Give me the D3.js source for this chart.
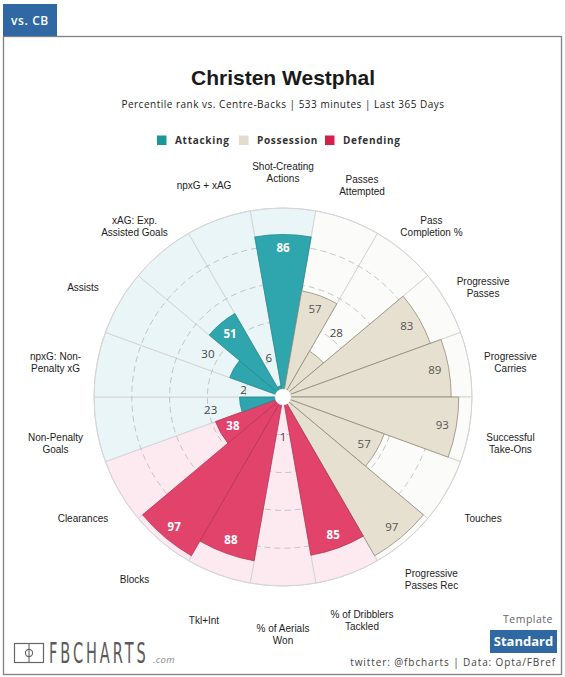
<!DOCTYPE html>
<html>
<head>
<meta charset="utf-8">
<script src="https://cdn.jsdelivr.net/npm/d3@7"></script>
<style>
  html, body { margin: 0; padding: 0; background: #fff; }
  svg { display: block; }
</style>
</head>
<body>
<svg id="chart" width="565" height="677"></svg>
<script>
// ---------------- DATA ----------------
const categories = [
  "Shot-Creating Actions", "Passes Attempted", "Pass Completion %", "Progressive Passes",
  "Progressive Carries", "Successful Take-Ons", "Touches", "Progressive Passes Rec",
  "% of Dribblers Tackled", "% of Aerials Won", "Tkl+Int", "Blocks", "Clearances",
  "Non-Penalty Goals", "npxG: Non-Penalty xG", "Assists", "xAG: Exp. Assisted Goals", "npxG + xAG"
];
const labelLines = [
  ["Shot-Creating", "Actions"], ["Passes", "Attempted"], ["Pass", "Completion %"], ["Progressive", "Passes"],
  ["Progressive", "Carries"], ["Successful", "Take-Ons"], ["Touches"], ["Progressive", "Passes Rec"],
  ["% of Dribblers", "Tackled"], ["% of Aerials", "Won"], ["Tkl+Int"], ["Blocks"], ["Clearances"],
  ["Non-Penalty", "Goals"], ["npxG: Non-", "Penalty xG"], ["Assists"], ["xAG: Exp.", "Assisted Goals"], ["npxG + xAG"]
];
const groups = [
  "Attacking", "Possession", "Possession", "Possession",
  "Possession", "Possession", "Possession", "Possession",
  "Defending", "Defending", "Defending", "Defending", "Defending",
  "Attacking", "Attacking", "Attacking", "Attacking", "Attacking"
];
const percentiles = [86, 57, 28, 83, 89, 93, 57, 97, 85, 1, 88, 97, 38, 23, 2, 30, 51, 6];
const gridTicks = [20, 40, 60, 80];
const legendGroups = ["Attacking", "Possession", "Defending"];

const playerName = "Christen Westphal";
const subtitle = "Percentile rank vs. Centre-Backs | 533 minutes | Last 365 Days";

// ---------------- STYLE ----------------
const barColor = { Attacking: "#2fa6ad", Possession: "#e6e0d0", Defending: "#e1436b" };
const barStroke = { Attacking: "#26898f", Possession: "#8f8a7b", Defending: "#b93558" };
const bgColor = { Attacking: "#e9f5f6", Possession: "#fbfbfa", Defending: "#fdeaf0" };
const legendColor = { Attacking: "#1b9797", Possession: "#e1ddcc", Defending: "#d81f4c" };
const labelInsideColor = { Attacking: "#ffffff", Possession: "#555", Defending: "#ffffff" };

const W = 565, H = 677;
const cx = 283, cy = 397, R = 189;

const svg = d3.select("#chart");

// Panel border
svg.append("rect").attr("x", 3.5).attr("y", 36.5).attr("width", 558).attr("height", 638)
  .attr("fill", "#fff").attr("stroke", "#808080").attr("stroke-width", 1.3);

// Tag "vs. CB"
svg.append("rect").attr("x", 3).attr("y", 4).attr("width", 54).attr("height", 32).attr("fill", "#2f68a2");
svg.append("text").attr("x", 30).attr("y", 25).attr("text-anchor", "middle")
  .attr("font-family", "'Open Sans', sans-serif").attr("font-weight", 600).attr("font-size", 12)
  .attr("letter-spacing", 0.6).attr("fill", "#fff").text("vs. CB");

// Title & subtitle
svg.append("text").attr("x", cx).attr("y", 85).attr("text-anchor", "middle")
  .attr("font-family", "'Liberation Sans', Arial, sans-serif").attr("font-weight", "bold")
  .attr("font-size", 21).attr("fill", "#1a1a1a").text(playerName);
svg.append("text").attr("x", cx).attr("y", 108).attr("text-anchor", "middle")
  .attr("font-family", "'Open Sans', sans-serif").attr("font-size", 10)
  .attr("letter-spacing", 0.5).attr("fill", "#222").text(subtitle);

// Legend
const legendX = [157, 239, 325];
legendGroups.forEach((g, i) => {
  svg.append("rect").attr("x", legendX[i]).attr("y", 135.5).attr("width", 9.5).attr("height", 9.5)
    .attr("fill", legendColor[g]);
  svg.append("text").attr("x", legendX[i] + 18).attr("y", 144)
    .attr("font-family", "'Open Sans', sans-serif").attr("font-weight", 700).attr("font-size", 10)
    .attr("letter-spacing", 0.7).attr("fill", "#333").text(g);
});

// ---------------- POLAR CHART ----------------
const g = svg.append("g").attr("transform", `translate(${cx},${cy})`);
const step = 2 * Math.PI / categories.length;
const angle = d3.scaleBand().domain(categories).range([-step / 2, 2 * Math.PI - step / 2]).padding(0);
const r = d3.scaleLinear().domain([0, 100]).range([0, R]);

const data = categories.map((c, i) => ({ cat: c, group: groups[i], value: percentiles[i], lines: labelLines[i] }));

const arcFull = d3.arc().innerRadius(0).outerRadius(r(100))
  .startAngle(d => angle(d.cat)).endAngle(d => angle(d.cat) + angle.bandwidth());
const arcBar = d3.arc().innerRadius(0).outerRadius(d => r(d.value))
  .startAngle(d => angle(d.cat)).endAngle(d => angle(d.cat) + angle.bandwidth());

// background wedges
g.selectAll("path.bg").data(data).join("path").attr("class", "bg")
  .attr("d", arcFull).attr("fill", d => bgColor[d.group])
  .attr("stroke", "#d2d2d2").attr("stroke-width", 0.9);

// dashed grid circles
g.selectAll("circle.grid").data(gridTicks).join("circle").attr("class", "grid")
  .attr("r", d => r(d)).attr("fill", "none").attr("stroke", "#b8b8b8")
  .attr("stroke-width", 0.8).attr("stroke-dasharray", "6,4");

// bars
g.selectAll("path.bar").data(data).join("path").attr("class", "bar")
  .attr("d", arcBar).attr("fill", d => barColor[d.group])
  .attr("stroke", d => barStroke[d.group]).attr("stroke-width", 0.8);

// outer circle
g.append("circle").attr("r", r(100)).attr("fill", "none").attr("stroke", "#d6d6d6").attr("stroke-width", 1);

// center
g.append("circle").attr("r", 8).attr("fill", "#fff").attr("stroke", "#e0e0e0").attr("stroke-width", 0.5);

// value labels
g.selectAll("text.val").data(data).join("text").attr("class", "val")
  .each(function (d) {
    const a = angle(d.cat) + angle.bandwidth() / 2;
    const inside = d.value >= 35;
    const rr = inside ? r(d.value) - 14 : Math.max(r(d.value) + 30, 40);
    d3.select(this)
      .attr("x", Math.sin(a) * rr).attr("y", -Math.cos(a) * rr + 4)
      .attr("text-anchor", "middle")
      .attr("font-family", "'Open Sans', sans-serif")
      .attr("font-size", 11.5)
      .attr("font-weight", inside && d.group !== "Possession" ? 700 : 400)
      .attr("fill", inside ? labelInsideColor[d.group] : "#444")
      .text(d.value);
  });

// category labels
const labelR = 231;
g.selectAll("text.cat").data(data).join("text").attr("class", "cat")
  .each(function (d) {
    const a = angle(d.cat) + angle.bandwidth() / 2;
    const x = Math.sin(a) * labelR;
    const y = -Math.cos(a) * labelR + 6;
    const n = d.lines.length;
    const t = d3.select(this).attr("text-anchor", "middle")
      .attr("font-family", "'Liberation Sans', Arial, sans-serif").attr("font-size", 10)
      .attr("fill", "#222");
    d.lines.forEach((line, i) => {
      t.append("tspan").attr("x", x).attr("y", y + 3.5 + (i - (n - 1) / 2) * 12).text(line);
    });
  });

// ---------------- FOOTER ----------------
svg.append("text").attr("x", 553).attr("y", 622.5).attr("text-anchor", "end")
  .attr("font-family", "'Open Sans', sans-serif").attr("font-size", 10.5)
  .attr("letter-spacing", 0.5).attr("fill", "#666").text("Template");
svg.append("rect").attr("x", 490).attr("y", 630).attr("width", 67).attr("height", 23).attr("fill", "#2f68a2");
svg.append("text").attr("x", 523.5).attr("y", 646).attr("text-anchor", "middle")
  .attr("font-family", "'Open Sans', sans-serif").attr("font-weight", 700).attr("font-size", 13)
  .attr("fill", "#fff").text("Standard");
svg.append("text").attr("x", 556).attr("y", 666).attr("text-anchor", "end")
  .attr("font-family", "'Open Sans', sans-serif").attr("font-size", 10)
  .attr("letter-spacing", 0.9).attr("fill", "#444").text("twitter: @fbcharts | Data: Opta/FBref");

// Logo
const logo = svg.append("g");
logo.append("rect").attr("x", 14.5).attr("y", 643.5).attr("width", 29).attr("height", 19)
  .attr("fill", "none").attr("stroke", "#666").attr("stroke-width", 1.2);
logo.append("line").attr("x1", 29).attr("x2", 29).attr("y1", 643.5).attr("y2", 662.5)
  .attr("stroke", "#666").attr("stroke-width", 1.1);
logo.append("circle").attr("cx", 29).attr("cy", 653).attr("r", 3.6)
  .attr("fill", "none").attr("stroke", "#666").attr("stroke-width", 1.1);
logo.append("g").attr("transform", "translate(49,662.7) scale(0.52,1)")
  .append("text").attr("x", 0).attr("y", 0)
  .attr("font-family", "'DejaVu Sans', sans-serif").attr("font-weight", 400).attr("font-size", 28)
  .attr("letter-spacing", 5.6)
  .attr("fill", "#5a5a5a").text("FBCHARTS");
logo.append("text").attr("x", 153).attr("y", 662.5)
  .attr("font-family", "'Open Sans', sans-serif").attr("font-style", "italic").attr("font-size", 9.5)
  .attr("letter-spacing", 0.4).attr("fill", "#888").text(".com");
</script>
</body>
</html>
